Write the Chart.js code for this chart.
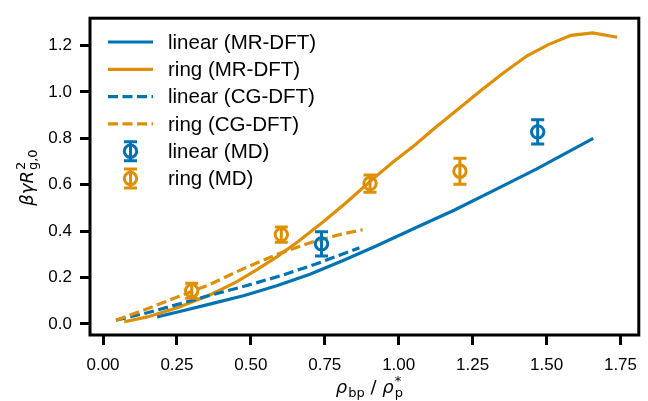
<!DOCTYPE html>
<html>
<head>
<meta charset="utf-8">
<script src="https://cdn.jsdelivr.net/npm/chart.js@4.4.0/dist/chart.umd.min.js"></script>
<style>
  html, body { margin: 0; padding: 0; background: #fff; }
  #wrap { width: 648px; height: 401px; }
</style>
</head>
<body>
<div id="wrap"><canvas id="myChart" width="648" height="401"></canvas></div>
<script>
const blue = '#0173b2';
const orange = '#de8f05';

// MR-DFT curves
const linearMrX = [0.183, 0.256, 0.361, 0.478, 0.59, 0.70, 0.81, 0.922, 1.05, 1.189, 1.356, 1.467, 1.658];
const linearMrY = [0.030, 0.052, 0.085, 0.122, 0.165, 0.214, 0.272, 0.335, 0.410, 0.491, 0.597, 0.668, 0.800];
const ringMrX = [0.072, 0.15, 0.256, 0.37, 0.45, 0.522, 0.589, 0.66, 0.745, 0.82, 0.911, 0.98, 1.056, 1.12, 1.189, 1.278, 1.356, 1.433, 1.506, 1.583, 1.656, 1.739];
const ringMrY = [0.009, 0.030, 0.072, 0.130, 0.180, 0.235, 0.290, 0.355, 0.440, 0.520, 0.623, 0.697, 0.772, 0.842, 0.914, 1.006, 1.084, 1.155, 1.204, 1.244, 1.255, 1.236];

// CG-DFT curves
const linearCgX = [0.044, 0.15, 0.25, 0.36, 0.48, 0.60, 0.72, 0.867];
const linearCgY = [0.016, 0.048, 0.083, 0.122, 0.163, 0.207, 0.258, 0.328];
const ringCgX = [0.044, 0.15, 0.256, 0.361, 0.47, 0.589, 0.70, 0.80, 0.878];
const ringCgY = [0.016, 0.065, 0.118, 0.170, 0.235, 0.300, 0.350, 0.385, 0.406];

// MD results with error bars
const linearMdX = [0.739, 1.47];
const linearMdY = [0.345, 0.828];
const linearMdErr = [0.052, 0.052];
const ringMdX = [0.30, 0.603, 0.903, 1.207];
const ringMdY = [0.143, 0.385, 0.605, 0.658];
const ringMdErr = [0.032, 0.033, 0.037, 0.056];

const xTicks = [0, 0.25, 0.5, 0.75, 1.0, 1.25, 1.5, 1.75];
const yTicks = [0, 0.2, 0.4, 0.6, 0.8, 1.0, 1.2];

const pts = (xs, ys) => xs.map((x, i) => ({ x: x, y: ys[i] }));

const lineW = 3.2;

const lineSet = (label, xs, ys, color, dash, order) => ({
    label: label,
    data: pts(xs, ys),
    borderColor: color,
    backgroundColor: color,
    borderWidth: lineW,
    borderDash: dash,
    pointRadius: 0,
    tension: 0,
    fill: false,
    order: order,
});

const mdSet = (label, xs, ys, err, color) => ({
    label: label,
    data: pts(xs, ys),
    err: err,
    showLine: false,
    borderColor: color,
    backgroundColor: 'rgba(0,0,0,0)',
    pointStyle: 'circle',
    pointRadius: 6.2,
    pointBorderWidth: 3,
    pointBorderColor: color,
    pointBackgroundColor: 'rgba(0,0,0,0)',
    order: 0,
});

const data = {
    datasets: [
        lineSet('linear (MR-DFT)', linearMrX, linearMrY, blue, [], 5),
        lineSet('ring (MR-DFT)', ringMrX, ringMrY, orange, [], 4),
        lineSet('linear (CG-DFT)', linearCgX, linearCgY, blue, [10, 4.5], 3),
        lineSet('ring (CG-DFT)', ringCgX, ringCgY, orange, [10, 4.5], 2),
        mdSet('linear (MD)', linearMdX, linearMdY, linearMdErr, blue),
        mdSet('ring (MD)', ringMdX, ringMdY, ringMdErr, orange),
    ]
};

// vertical error bars with caps, drawn just under each MD marker set
const errorBars = {
    id: 'errorBars',
    beforeDatasetDraw(chart, args) {
        const ds = chart.data.datasets[args.index];
        if (!ds.err) return;
        const ctx = chart.ctx;
        const x = chart.scales.x, y = chart.scales.y;
        ctx.save();
        ctx.strokeStyle = ds.borderColor;
        ctx.lineWidth = 3;
        ds.data.forEach((p, i) => {
            const px = x.getPixelForValue(p.x);
            const top = y.getPixelForValue(p.y + ds.err[i]);
            const bot = y.getPixelForValue(p.y - ds.err[i]);
            ctx.beginPath();
            ctx.moveTo(px, top); ctx.lineTo(px, bot);
            ctx.moveTo(px - 6.5, top); ctx.lineTo(px + 6.5, top);
            ctx.moveTo(px - 6.5, bot); ctx.lineTo(px + 6.5, bot);
            ctx.stroke();
        });
        ctx.restore();
    }
};

// draw a run of text pieces (italic / sub / superscript) along the baseline
function drawPieces(ctx, pieces, x0) {
    let x = x0;
    pieces.forEach(p => {
        ctx.font = p.font;
        ctx.fillText(p.t, x + (p.dx || 0), p.dy || 0);
        const w = ctx.measureText(p.t).width;
        if (!p.stack) x += w + (p.gap || 0);
    });
    return x;
}

function piecesWidth(ctx, pieces) {
    let w = 0;
    pieces.forEach(p => {
        ctx.font = p.font;
        if (!p.stack) w += ctx.measureText(p.t).width + (p.gap || 0);
    });
    return w;
}

const mathIt = 'italic 18px "DejaVu Sans"';
const mathRm = '18px "DejaVu Sans"';
const mathSm = '13px "DejaVu Sans"';

const frameAndLabels = {
    id: 'frameAndLabels',
    afterDraw(chart) {
        const ctx = chart.ctx;
        const a = chart.chartArea;
        ctx.save();
        // box round the plot
        ctx.strokeStyle = '#000';
        ctx.lineWidth = 3;
        ctx.strokeRect(a.left, a.top, a.right - a.left, a.bottom - a.top);

        ctx.fillStyle = '#000';
        ctx.textBaseline = 'alphabetic';

        // x axis title: rho_bp / rho*_p
        const xt = [
            { t: 'ρ', font: mathIt, gap: 1 },
            { t: 'bp', font: mathSm, dy: 4 },
            { t: ' / ', font: mathRm },
            { t: 'ρ', font: mathIt, gap: 1 },
            { t: '*', font: mathSm, dy: -8, stack: true },
            { t: 'p', font: mathSm, dy: 4 },
        ];
        const xw = piecesWidth(ctx, xt);
        ctx.save();
        ctx.translate((a.left + a.right) / 2 - xw / 2 + 5, 393);
        drawPieces(ctx, xt, 0);
        ctx.restore();

        // y axis title: beta gamma R^2_{g,0}
        const yt = [
            { t: 'βγ', font: mathIt },
            { t: 'R', font: mathIt, gap: 1 },
            { t: '2', font: mathSm, dy: -8, stack: true },
            { t: 'g,0', font: mathSm, dy: 4 },
        ];
        const yw = piecesWidth(ctx, yt);
        ctx.save();
        ctx.translate(33, (a.top + a.bottom) / 2 + yw / 2 + 1);
        ctx.rotate(-Math.PI / 2);
        drawPieces(ctx, yt, 0);
        ctx.restore();

        // legend in the upper left corner
        ctx.font = '20.5px "Liberation Sans"';
        ctx.textBaseline = 'middle';
        chart.data.datasets.forEach((ds, i) => {
            const y = 42 + i * 27.3;
            ctx.strokeStyle = ds.borderColor;
            if (ds.err) {
                const cx = 130.5;
                ctx.lineWidth = 3;
                ctx.setLineDash([]);
                ctx.beginPath();
                ctx.moveTo(cx, y - 9.5); ctx.lineTo(cx, y + 9.5);
                ctx.moveTo(cx - 6.5, y - 9.5); ctx.lineTo(cx + 6.5, y - 9.5);
                ctx.moveTo(cx - 6.5, y + 9.5); ctx.lineTo(cx + 6.5, y + 9.5);
                ctx.stroke();
                ctx.beginPath();
                ctx.arc(cx, y, 6.2, 0, Math.PI * 2);
                ctx.stroke();
            } else {
                ctx.lineWidth = ds.borderWidth;
                ctx.setLineDash(ds.borderDash);
                ctx.beginPath();
                ctx.moveTo(108, y); ctx.lineTo(153, y);
                ctx.stroke();
            }
            ctx.setLineDash([]);
            ctx.fillStyle = '#000';
            ctx.fillText(ds.label, 168, y + 1);
        });
        ctx.restore();
    }
};

const tickFont = { family: '"Liberation Sans"', size: 17 };

const config = {
    type: 'line',
    data: data,
    options: {
        responsive: false,
        animation: false,
        layout: {
            padding: { top: 14, right: 1, left: 0, bottom: 0 },
        },
        plugins: {
            legend: { display: false },
            tooltip: { enabled: false },
        },
        scales: {
            x: {
                type: 'linear',
                min: -0.044,
                max: 1.812,
                afterBuildTicks: (scale) => { scale.ticks = xTicks.map(v => ({ value: v })); },
                afterFit: (scale) => { scale.height = 66; },
                border: { display: false },
                grid: {
                    drawOnChartArea: false,
                    drawTicks: true,
                    tickLength: 10,
                    tickWidth: 3,
                    tickColor: '#000',
                },
                ticks: {
                    color: '#000',
                    font: tickFont,
                    padding: 10,
                    maxRotation: 0,
                    callback: (v) => v.toFixed(2),
                },
            },
            y: {
                type: 'linear',
                min: -0.048,
                max: 1.318,
                afterBuildTicks: (scale) => { scale.ticks = yTicks.map(v => ({ value: v })); },
                afterFit: (scale) => { scale.width = 90; },
                border: { display: false },
                grid: {
                    drawOnChartArea: false,
                    drawTicks: true,
                    tickLength: 10,
                    tickWidth: 3,
                    tickColor: '#000',
                },
                ticks: {
                    color: '#000',
                    font: tickFont,
                    padding: 8,
                    callback: (v) => v.toFixed(1),
                },
            },
        }
    },
    plugins: [errorBars, frameAndLabels],
};

const myChart = new Chart(
    document.getElementById('myChart'),
    config
);
</script>
</body>
</html>
